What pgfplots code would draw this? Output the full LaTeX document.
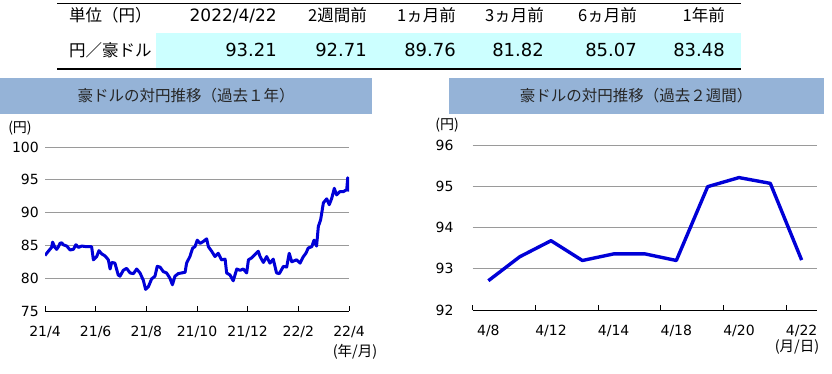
\documentclass[border=0pt]{standalone}
\usepackage{fontspec}
\setmainfont{DejaVu Sans}
\newfontfamily\jp{Noto Sans CJK JP}
\usepackage{pgfplots}
\pgfplotsset{compat=1.18}
\definecolor{tcyan}{HTML}{CCFFFF}
\definecolor{barblue}{HTML}{95B3D7}
\definecolor{lineblue}{RGB}{0,0,215}
\definecolor{gridgray}{HTML}{9A9A9A}

\pgfplotstableread{
m v
0.00 83.46
0.13 84.1
0.26 84.7
0.30 85.5
0.39 84.7
0.46 84.4
0.53 84.8
0.59 85.3
0.66 85.4
0.72 85.1
0.86 84.9
0.99 84.3
1.12 84.4
1.22 85.1
1.32 84.7
1.45 84.9
1.64 84.8
1.84 84.8
1.91 82.8
2.04 83.3
2.13 84.2
2.24 83.7
2.37 83.4
2.50 82.8
2.57 81.4
2.63 82.4
2.76 82.3
2.89 80.5
2.96 80.3
3.09 81.2
3.22 81.5
3.36 80.8
3.49 80.7
3.62 81.4
3.75 80.8
3.88 79.7
3.97 78.3
4.08 78.7
4.21 79.9
4.34 80.3
4.43 81.8
4.54 81.7
4.67 81.0
4.80 80.8
4.93 80.0
5.03 79.0
5.13 80.3
5.26 80.7
5.39 80.8
5.53 80.9
5.59 82.3
5.72 83.3
5.83 84.6
5.92 84.8
6.01 85.8
6.12 85.3
6.25 85.6
6.38 86.0
6.45 84.8
6.58 84.1
6.71 83.3
6.84 83.8
6.97 82.8
7.11 82.9
7.17 80.8
7.30 80.5
7.43 79.6
7.57 81.4
7.70 81.2
7.83 81.4
7.96 80.8
8.03 82.8
8.16 83.1
8.29 83.6
8.42 84.1
8.49 83.3
8.62 82.4
8.75 83.3
8.88 82.3
9.01 82.9
9.14 80.8
9.25 80.7
9.41 81.8
9.54 81.7
9.64 83.8
9.74 82.5
9.93 82.8
10.07 82.3
10.20 83.3
10.30 83.8
10.39 84.6
10.53 84.8
10.62 85.8
10.72 84.9
10.79 87.9
10.88 88.9
10.99 91.5
11.12 92.1
11.22 91.2
11.32 92.2
11.42 93.7
11.51 92.7
11.64 93.2
11.78 93.2
11.91 93.5
11.95 95.3
11.97 95.0
12.00 93.21
}\yeartable

\pgfplotstableread{
i v
0 92.71
1 93.29
2 93.68
3 93.20
4 93.36
5 93.36
6 93.20
7 94.99
8 95.21
9 95.07
10 93.21
}\weektable

\begin{document}
\begin{tikzpicture}
\path[use as bounding box] (0pt,0pt) rectangle (832pt,374pt);
% ---- table ----
\fill[tcyan] (156pt,306pt) rectangle (741pt,341pt);
\draw[line width=1.2pt] (57pt,370.5pt) -- (741pt,370.5pt);
\draw[line width=1.2pt] (57pt,305pt) -- (741pt,305pt);
\newcommand{\hf}{\jp\fontsize{16.5}{16.5}\selectfont}
\newcommand{\nf}{\fontsize{18}{18}\selectfont}
\node[anchor=base west, inner sep=0] at (69pt,352pt) {\hf 単位（円）};
\node[anchor=base east, inner sep=0] at (277pt,352pt) {\fontsize{17}{17}\selectfont 2022/4/22};
\node[anchor=base east, inner sep=0] at (367pt,352pt) {\hf 2週間前};
\node[anchor=base east, inner sep=0] at (456pt,352pt) {\hf 1ヵ月前};
\node[anchor=base east, inner sep=0] at (544pt,352pt) {\hf 3ヵ月前};
\node[anchor=base east, inner sep=0] at (637pt,352pt) {\hf 6ヵ月前};
\node[anchor=base east, inner sep=0] at (725pt,352pt) {\hf 1年前};
\node[anchor=base west, inner sep=0] at (69pt,317pt) {\hf 円／豪ドル};
\node[anchor=base east, inner sep=0] at (277pt,317pt) {\nf 93.21};
\node[anchor=base east, inner sep=0] at (367pt,317pt) {\nf 92.71};
\node[anchor=base east, inner sep=0] at (456pt,317pt) {\nf 89.76};
\node[anchor=base east, inner sep=0] at (544pt,317pt) {\nf 81.82};
\node[anchor=base east, inner sep=0] at (637pt,317pt) {\nf 85.07};
\node[anchor=base east, inner sep=0] at (725pt,317pt) {\nf 83.48};
% ---- title bars ----
\fill[barblue] (0pt,260pt) rectangle (372pt,296pt);
\fill[barblue] (449pt,260pt) rectangle (824pt,296pt);
\node[text=black!85] at (186pt,278pt) {\jp\fontsize{15.5}{15.5}\selectfont 豪ドルの対円推移（過去１年）};
\node[text=black!85] at (636pt,278pt) {\jp\fontsize{15.5}{15.5}\selectfont 豪ドルの対円推移（過去２週間）};
% ---- unit labels ----
\node at (20pt,246pt) {\jp\fontsize{14}{14}\selectfont (円)};
\node at (447pt,249pt) {\jp\fontsize{14}{14}\selectfont (円)};
\node at (355pt,22pt) {\jp\fontsize{14.5}{14.5}\selectfont (年/月)};
\node[inner sep=0pt] at (797pt,27pt) {\jp\fontsize{14.5}{14.5}\selectfont (月/日)};

\pgfplotsset{
  myaxis/.style={
    scale only axis,
    anchor=south west,
    axis lines*=left,
    axis line style={-},
    x axis line style={black, line width=0.8pt},
    y axis line style={draw=none},
    ytick style={draw=none},
    ymajorgrids,
    major grid style={gridgray, line width=0.8pt},
    xtick align=inside,
    /pgf/number format/assume math mode=true,
    tick label style={font=\fontsize{14}{14}\selectfont, inner sep=0pt},
    xticklabel style={anchor=base, yshift=-26pt},
    xtick style={black, line width=0.8pt},
  }
}

\begin{axis}[myaxis,
  at={(45pt,63pt)}, width=304pt, height=164pt,
  xmin=0, xmax=12, ymin=75, ymax=100,
  ytick={75,80,...,100},
  xtick={0,2,...,12},
  xticklabels={21/4,21/6,21/8,21/10,21/12,22/2,22/4},
  major tick length=5pt,
  yticklabel style={anchor=east, xshift=-6pt},
]
\addplot[lineblue, line width=3pt, line join=round] table[x=m,y=v] {\yeartable};
\end{axis}

\begin{axis}[myaxis,
  at={(472.7pt,64pt)}, width=344.6pt, height=165pt,
  xmin=-0.5, xmax=10.5, ymin=92, ymax=96,
  ytick={92,93,...,96},
  xtick={0,2,...,10},
  xticklabels={4/8,4/12,4/14,4/18,4/20,4/22},
  major tick length=0pt,
  minor xtick={-0.5,1.5,3.5,5.5,7.5,9.5},
  minor tick length=5pt,
  minor x tick style={black, line width=0.8pt},
  yticklabel style={anchor=east, xshift=-19pt},
]
\addplot[lineblue, line width=3.4pt, line join=round] table[x=i,y=v] {\weektable};
\end{axis}
\end{tikzpicture}
\end{document}
